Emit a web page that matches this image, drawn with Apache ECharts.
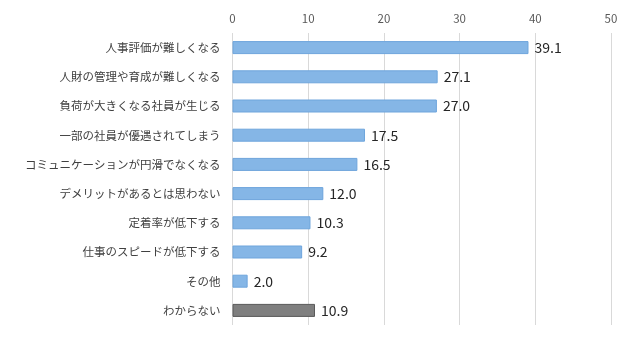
<!DOCTYPE html>
<html>
<head>
<meta charset="utf-8">
<script src="https://cdn.jsdelivr.net/npm/echarts@6/dist/echarts.min.js"></script>
<style>
  html, body { margin: 0; padding: 0; background: #fff; }
  #chart { width: 630px; height: 338px; }
</style>
</head>
<body>
<div id="chart"></div>
<script>
// Answer items, top to bottom
const categories = [
  '人事評価が難しくなる',
  '人財の管理や育成が難しくなる',
  '負荷が大きくなる社員が生じる',
  '一部の社員が優遇されてしまう',
  'コミュニケーションが円滑でなくなる',
  'デメリットがあるとは思わない',
  '定着率が低下する',
  '仕事のスピードが低下する',
  'その他',
  'わからない'
];
// Share of respondents (%)
const values = [39.1, 27.1, 27.0, 17.5, 16.5, 12.0, 10.3, 9.2, 2.0, 10.9];
// Axis ticks
const axisMin = 0, axisMax = 50, axisStep = 10;

const font = '"Noto Sans CJK JP", "Noto Sans", sans-serif';

const chart = echarts.init(document.getElementById('chart'), null, { renderer: 'canvas' });

const data = values.map((v, i) => {
  const isUnknown = categories[i] === 'わからない';
  return {
    value: v,
    itemStyle: isUnknown
      ? { color: '#7f7f7f', borderColor: '#5a5a5a', borderWidth: 1 }
      : { color: '#85b6e6', borderColor: '#6ea5dc', borderWidth: 1 }
  };
});

chart.setOption({
  animation: false,
  grid: { left: 232.5, right: 19, top: 33, bottom: 13, containLabel: false },
  xAxis: {
    type: 'value',
    position: 'top',
    min: axisMin, max: axisMax, interval: axisStep,
    axisLine: { show: false },
    axisTick: { show: false },
    axisLabel: { color: '#595959', fontSize: 11.5, fontFamily: font, margin: 9 },
    splitLine: { lineStyle: { color: '#d9d9d9', width: 1 } }
  },
  yAxis: {
    type: 'category',
    inverse: true,
    data: categories,
    axisLine: { show: false },
    axisTick: { show: false },
    axisLabel: { color: '#404040', fontSize: 11.5, fontFamily: font, margin: 12 }
  },
  series: [{
    type: 'bar',
    data: data,
    barWidth: 13,
    label: {
      show: true,
      position: 'right',
      distance: 6,
      color: '#262626',
      fontSize: 14,
      fontFamily: font,
      formatter: p => p.value.toFixed(1)
    }
  }]
});
</script>
</body>
</html>
